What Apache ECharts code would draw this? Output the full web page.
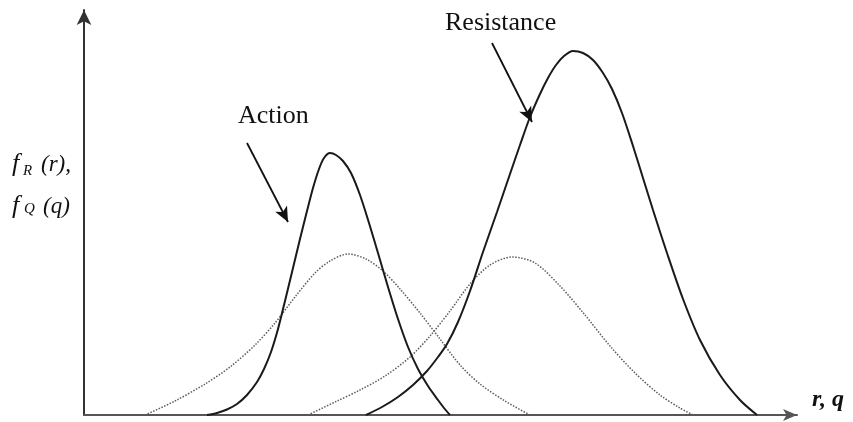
<!DOCTYPE html>
<html>
<head>
<meta charset="utf-8">
<script src="https://cdn.jsdelivr.net/npm/echarts@6/dist/echarts.min.js"></script>
<style>
  html, body { margin: 0; padding: 0; background: #fff; }
  #chart { width: 853px; height: 422px; }
</style>
</head>
<body>
<div id="chart"></div>
<script>
// Density curves, [r or q, f(.)] in arbitrary units.
var actionSolid = [
  [12.3, 0], [13.3, 0.2], [14.3, 0.55], [15.3, 1.1], [16.3, 2.0], [17.3, 3.3],
  [18.0, 4.6], [18.7, 6.3], [19.4, 8.6], [20.1, 11.4], [20.9, 14.7], [21.6, 17.6],
  [22.3, 20.4], [22.9, 22.7], [23.5, 24.6], [24.0, 25.7], [24.6, 26.2], [25.2, 26.0],
  [25.9, 25.4], [26.7, 24.2], [27.6, 22.0], [28.5, 19.2], [29.4, 16.2], [30.4, 12.8],
  [31.4, 9.6], [32.4, 6.8], [33.4, 4.6], [34.4, 2.9], [35.4, 1.5], [36.0, 0.7],
  [36.6, 0]
];
var actionDotted = [
  [6.1, 0], [9.1, 1.4], [12.1, 3.1], [14.6, 4.8], [17.1, 7.0], [19.1, 9.2],
  [21.1, 11.8], [23.1, 14.2], [24.6, 15.4], [26.4, 16.1], [28.2, 15.6], [29.9, 14.4],
  [31.6, 12.6], [33.6, 10.2], [35.6, 7.6], [37.6, 5.0], [39.6, 3.1], [42.1, 1.4],
  [44.6, 0]
];
var resistanceSolid = [
  [28.2, 0], [29.8, 0.8], [31.4, 1.8], [32.9, 3.0], [34.3, 4.4], [35.4, 5.8],
  [36.3, 7.1], [37.4, 9.3], [38.6, 12.4], [39.9, 16.3], [41.3, 20.3], [42.6, 24.1],
  [43.6, 27.0], [44.6, 29.8], [45.6, 32.1], [46.4, 33.7], [47.2, 35.0], [48.0, 35.9],
  [48.9, 36.4], [49.9, 36.2], [50.9, 35.5], [51.9, 34.2], [52.8, 32.6], [53.8, 30.2],
  [54.9, 26.9], [55.9, 23.7], [56.9, 20.5], [58.3, 16.2], [59.9, 11.6], [61.6, 7.5],
  [63.6, 4.0], [65.6, 1.5], [67.3, 0]
];
var resistanceDotted = [
  [22.4, 0], [25.1, 1.3], [27.6, 2.5], [30.1, 3.9], [32.6, 5.8], [34.6, 7.9],
  [36.6, 10.4], [38.6, 13.1], [40.6, 15.0], [42.8, 15.8], [45.1, 15.2], [47.6, 12.9],
  [50.1, 10.0], [52.6, 6.9], [55.1, 4.2], [57.6, 2.0], [59.6, 0.7], [60.9, 0]
];
// Pointer arrows from the labels to their curves: [start, tip]
var actionPointer = [[16.3, 27.2], [20.4, 19.3]];
var resistancePointer = [[40.8, 37.2], [44.8, 29.3]];

var axisMaxX = 71.3;
var axisMaxY = 40.5;

var serif = '"Liberation Serif", "Times New Roman", serif';
var solidStyle = { color: '#1a1a1a', width: 2 };
var dottedStyle = { color: '#5c5c5c', width: 1.5, type: 'dotted' };

function curve(name, data, style) {
  return {
    name: name, type: 'line', data: data, smooth: 0.3,
    symbol: 'none', lineStyle: style, silent: true
  };
}

function pointer(seg) {
  return {
    silent: true,
    symbol: ['none', 'arrow'],
    symbolSize: [10, 15],
    label: { show: false },
    lineStyle: { color: '#111', width: 1.8, type: 'solid' },
    emphasis: { disabled: true },
    data: [[{ coord: seg[0] }, { coord: seg[1] }]]
  };
}

var chart = echarts.init(document.getElementById('chart'), null, { renderer: 'canvas' });

var actionSeries = curve('Action', actionSolid, solidStyle);
actionSeries.markLine = pointer(actionPointer);
var resistanceSeries = curve('Resistance', resistanceSolid, solidStyle);
resistanceSeries.markLine = pointer(resistancePointer);

function txt(x, y, s, font) {
  return {
    type: 'text', silent: true, z: 10,
    style: { text: s, x: x, y: y, font: font + ' ' + serif,
      fill: '#111', verticalAlign: 'middle', align: 'left' }
  };
}

chart.setOption({
  animation: false,
  backgroundColor: '#fff',
  grid: { left: 84, right: 56, top: 10, bottom: 7, containLabel: false },
  xAxis: {
    type: 'value', min: 0, max: axisMaxX,
    axisLine: { show: true, symbol: ['none', 'arrow'], symbolSize: [9, 14],
      lineStyle: { color: '#555', width: 2 } },
    axisTick: { show: false }, axisLabel: { show: false }, splitLine: { show: false }
  },
  yAxis: {
    type: 'value', min: 0, max: axisMaxY,
    axisLine: { show: true, symbol: ['none', 'arrow'], symbolSize: [11, 15],
      lineStyle: { color: '#333', width: 2 } },
    axisTick: { show: false }, axisLabel: { show: false }, splitLine: { show: false }
  },
  series: [
    curve('Action spread', actionDotted, dottedStyle),
    curve('Resistance spread', resistanceDotted, dottedStyle),
    actionSeries,
    resistanceSeries
  ],
  graphic: [
    txt(445, 23, 'Resistance', '26px'),
    txt(238, 116, 'Action', '26px'),
    txt(12, 164, 'f', 'italic 26px'),
    txt(23, 171, 'R', 'italic 15px'),
    txt(41, 165, '(r),', 'italic 23px'),
    txt(12, 206, 'f', 'italic 26px'),
    txt(24, 209, 'Q', 'italic 15px'),
    txt(43, 207, '(q)', 'italic 23px'),
    txt(812, 400, 'r, q', 'italic bold 24px')
  ]
});
</script>
</body>
</html>
